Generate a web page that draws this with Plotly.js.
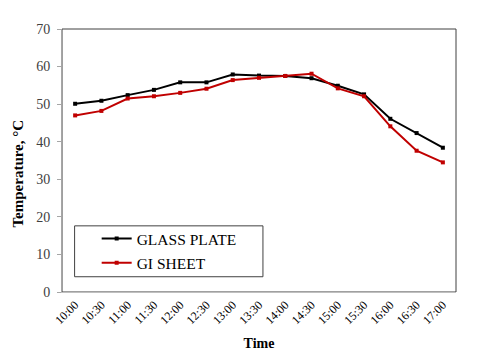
<!DOCTYPE html>
<html>
<head>
<meta charset="utf-8">
<script src="https://cdn.plot.ly/plotly-3.0.1.min.js"></script>
<style>
  html, body { margin: 0; padding: 0; background: #fff; }
  #graphDiv { width: 480px; height: 361px; }
</style>
</head>
<body>
<div id="graphDiv"></div>
<script>
  // time of reading
  var times = ['10:00', '10:30', '11:00', '11:30', '12:00', '12:30', '13:00', '13:30',
               '14:00', '14:30', '15:00', '15:30', '16:00', '16:30', '17:00'];
  // temperature under glass plate
  var glassPlate = [50.1, 50.9, 52.4, 53.8, 55.8, 55.8, 57.9, 57.6, 57.5, 56.9, 54.9, 52.6, 46.1, 42.3, 38.4];
  // temperature under GI sheet
  var giSheet = [47.0, 48.2, 51.5, 52.1, 53.0, 54.1, 56.4, 57.0, 57.5, 58.1, 54.2, 52.1, 44.1, 37.6, 34.5];

  var serif = 'Liberation Serif, Times New Roman, serif';

  var glass = {
    x: times,
    y: glassPlate,
    name: 'GLASS PLATE',
    legendgroup: 'a',
    mode: 'lines+markers',
    line: { color: '#000000', width: 2 },
    marker: { symbol: 'square', size: 4, color: '#000000' }
  };
  var gi = {
    x: times,
    y: giSheet,
    name: 'GI SHEET',
    legendgroup: 'b',
    mode: 'lines+markers',
    line: { color: '#c00000', width: 2 },
    marker: { symbol: 'square', size: 4, color: '#c00000' }
  };

  var layout = {
    width: 480,
    height: 361,
    margin: { l: 62, r: 24, t: 29, b: 69 },
    paper_bgcolor: '#ffffff',
    plot_bgcolor: '#ffffff',
    font: { family: serif, color: '#000000' },
    showlegend: true,
    legend: {
      x: 0.088, y: 0.266, xanchor: 'left', yanchor: 'top',
      bgcolor: 'rgba(0,0,0,0)',
      borderwidth: 0,
      traceorder: 'grouped',
      tracegroupgap: 1,
      font: { family: serif, size: 15.5, color: '#000000' }
    },
    xaxis: {
      type: 'category',
      range: [-0.5, 14.5],
      showgrid: false,
      zeroline: false,
      showline: true,
      linecolor: '#bfbfbf',
      linewidth: 1,
      ticks: '',
      tickangle: -45,
      tickfont: { family: serif, size: 12, color: '#000000' },
      title: { text: '<b>Time</b>', font: { family: serif, size: 14 }, standoff: 12 }
    },
    yaxis: {
      range: [0, 70],
      dtick: 10,
      showgrid: false,
      zeroline: false,
      showline: true,
      linecolor: '#a6a6a6',
      linewidth: 1,
      ticks: 'outside',
      ticklen: 4,
      tickcolor: '#a6a6a6',
      ticklabelstandoff: 4,
      tickfont: { family: serif, size: 14, color: '#404040' }
    },
    annotations: [
      {
        text: '<b>Temperature, °C</b>',
        xref: 'paper', yref: 'paper', x: -0.1126, y: 0.449,
        xanchor: 'center', yanchor: 'middle', textangle: -90,
        showarrow: false,
        font: { family: serif, size: 15, color: '#000000' }
      }
    ],
    shapes: [
      {
        type: 'rect', xref: 'paper', yref: 'paper', x0: 0, x1: 1, y0: 0, y1: 1,
        line: { color: '#404040', width: 1 }, layer: 'below'
      },
      {
        type: 'rect', xref: 'paper', yref: 'paper', x0: 0.032, x1: 0.51, y0: 0.058, y1: 0.2515,
        line: { color: '#404040', width: 1 }, fillcolor: '#ffffff', layer: 'below'
      }
    ]
  };

  Plotly.newPlot(graphDiv, [glass, gi], layout, { displayModeBar: false, staticPlot: true });
</script>
</body>
</html>
